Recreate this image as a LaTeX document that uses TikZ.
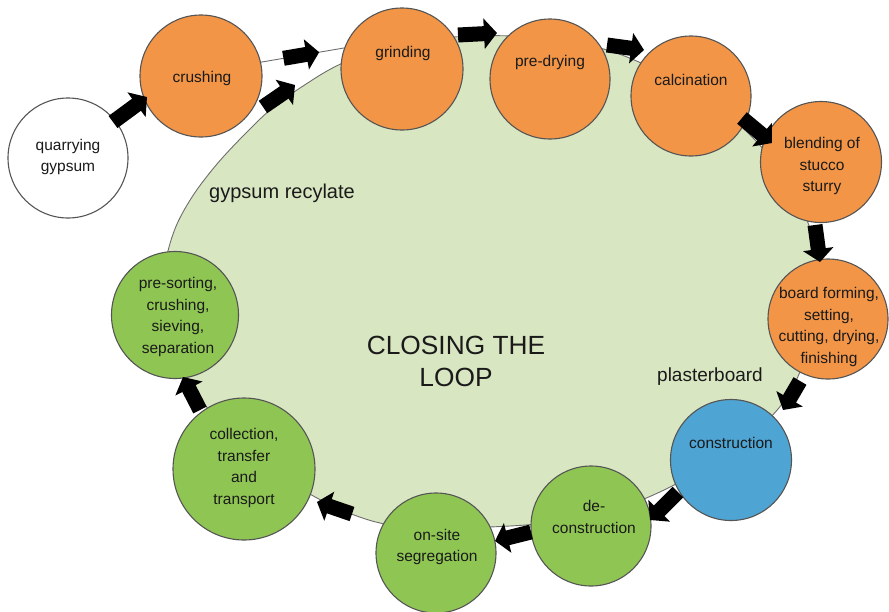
\documentclass[tikz,border=0pt]{standalone}
\usepackage{fontspec}
\setmainfont{Liberation Sans}
\usetikzlibrary{arrows.meta}
\definecolor{orng}{HTML}{F29546}
\definecolor{grn}{HTML}{8FC653}
\definecolor{blu}{HTML}{4EA4D2}
\definecolor{loopfill}{HTML}{D9E6C2}
\definecolor{edgecol}{HTML}{555555}
\definecolor{txt}{HTML}{1A1A1A}
\begin{document}
\begin{tikzpicture}[x=1pt,y=-1pt,
  stagecircle/.style={circle, draw=edgecol, line width=1.1pt, minimum size=#1, inner sep=0pt},
  lbl/.style={text=txt, align=center, font=\fontsize{15.5}{21.5}\selectfont, inner sep=0pt},
  biglbl/.style={text=txt, align=center, inner sep=0pt},
  blockarrow/.style={line width=15pt, draw=black, -{Triangle[length=13pt,width=30pt]}},
  thinline/.style={draw=edgecol!85, line width=0.9pt}
]
\useasboundingbox (0,0) rectangle (889,611);

% the loop
\draw[fill=loopfill, draw=edgecol!85, line width=0.9pt] plot[smooth cycle, tension=0.55] coordinates {
 (160,330) (162,290) (167,255) (177,224) (194,194) (217,164) (243,136) (270,110) (300,88)
 (343,63) (405,44) (470,36) (545,38) (607,50) (660,72) (712,103) (755,140)
 (790,185) (812,235) (820,290) (810,345) (785,400) (740,445) (680,482) (620,508)
 (555,522) (490,527) (430,528) (380,523) (335,507) (290,482) (245,448) (205,405)
 (178,365)};

% stages
\node[stagecircle=120pt, fill=white] (quarry) at (68,158) {};
\node[stagecircle=122pt, fill=orng] (crush) at (201,76) {};
\node[stagecircle=122pt, fill=orng] (grind) at (402,69) {};
\node[stagecircle=120pt, fill=orng] (predry) at (550,79) {};
\node[stagecircle=120pt, fill=orng] (calc) at (691,96) {};
\node[stagecircle=121pt, fill=orng] (blend) at (821,162) {};
\node[stagecircle=120pt, fill=orng] (board) at (828,319) {};
\node[stagecircle=121pt, fill=blu] (constr) at (731,460) {};
\node[stagecircle=120pt, fill=grn] (decon) at (591,526) {};
\node[stagecircle=120pt, fill=grn] (onsite) at (436,553) {};
\node[stagecircle=142pt, fill=grn] (collect) at (244,469) {};
\node[stagecircle=127pt, fill=grn] (presort) at (175,315) {};

% thin connector crushing -> grinding
\draw[thinline] (crush.13) -- (grind.160)
  coordinate[pos=0.27] (a2t) coordinate[pos=0.70] (a2h);

% labels
\node[lbl] (lquarry) at (68,157) {quarrying\\gypsum};
\node[lbl] (lcrush) at (202,78) {crushing};
\node[lbl] (lgrind) at (403,53) {grinding};
\node[lbl] (lpredry) at (550,62) {pre-drying};
\node[lbl] (lcalc) at (691,80) {calcination};
\node[lbl] (lblend) at (822,166) {blending of\\stucco\\sturry};
\node[lbl] (lboard) at (829,327) {board forming,\\setting,\\cutting, drying,\\finishing};
\node[lbl] (lconstr) at (731,443) {construction};
\node[lbl] (ldecon) at (594,517) {de-\\construction};
\node[lbl] (lonsite) at (437,547) {on-site\\segregation};
\node[lbl] (lcollect) at (244,468) {collection,\\transfer\\and\\transport};
\node[lbl] (lpresort) at (178,317) {pre-sorting,\\crushing,\\sieving,\\separation};
\node[biglbl, font=\fontsize{20}{24}\selectfont] (recyl) at (282,193) {gypsum recylate};
\node[biglbl, font=\fontsize{19}{23}\selectfont] (plaster) at (710,377) {plasterboard};
\node[biglbl, font=\fontsize{26.3}{32}\selectfont] (title) at (456,361) {CLOSING THE\\LOOP};

% arrow end points
\coordinate (a1t) at (113,122); \coordinate (a1h) at (147,97);
\coordinate (a3t) at (263,107); \coordinate (a3h) at (295,85);
\coordinate (a4t) at (458,35);  \coordinate (a4h) at (497,33);
\coordinate (a5t) at (607,45);  \coordinate (a5h) at (644,50);
\coordinate (a6t) at (742,118); \coordinate (a6h) at (772,143);
\coordinate (a7t) at (815,225); \coordinate (a7h) at (820,262);
\coordinate (a8t) at (800,381); \coordinate (a8h) at (783,410);
\coordinate (a9t) at (678,492); \coordinate (a9h) at (650,520);
\coordinate (a10t) at (531,532); \coordinate (a10h) at (495,541);
\coordinate (a11t) at (352,514); \coordinate (a11h) at (317,502);
\coordinate (a12t) at (200,410); \coordinate (a12h) at (183,377);

% arrows
\foreach \k in {1,...,12} {\draw[blockarrow] (a\k t) -- (a\k h);}
\end{tikzpicture}
\end{document}
